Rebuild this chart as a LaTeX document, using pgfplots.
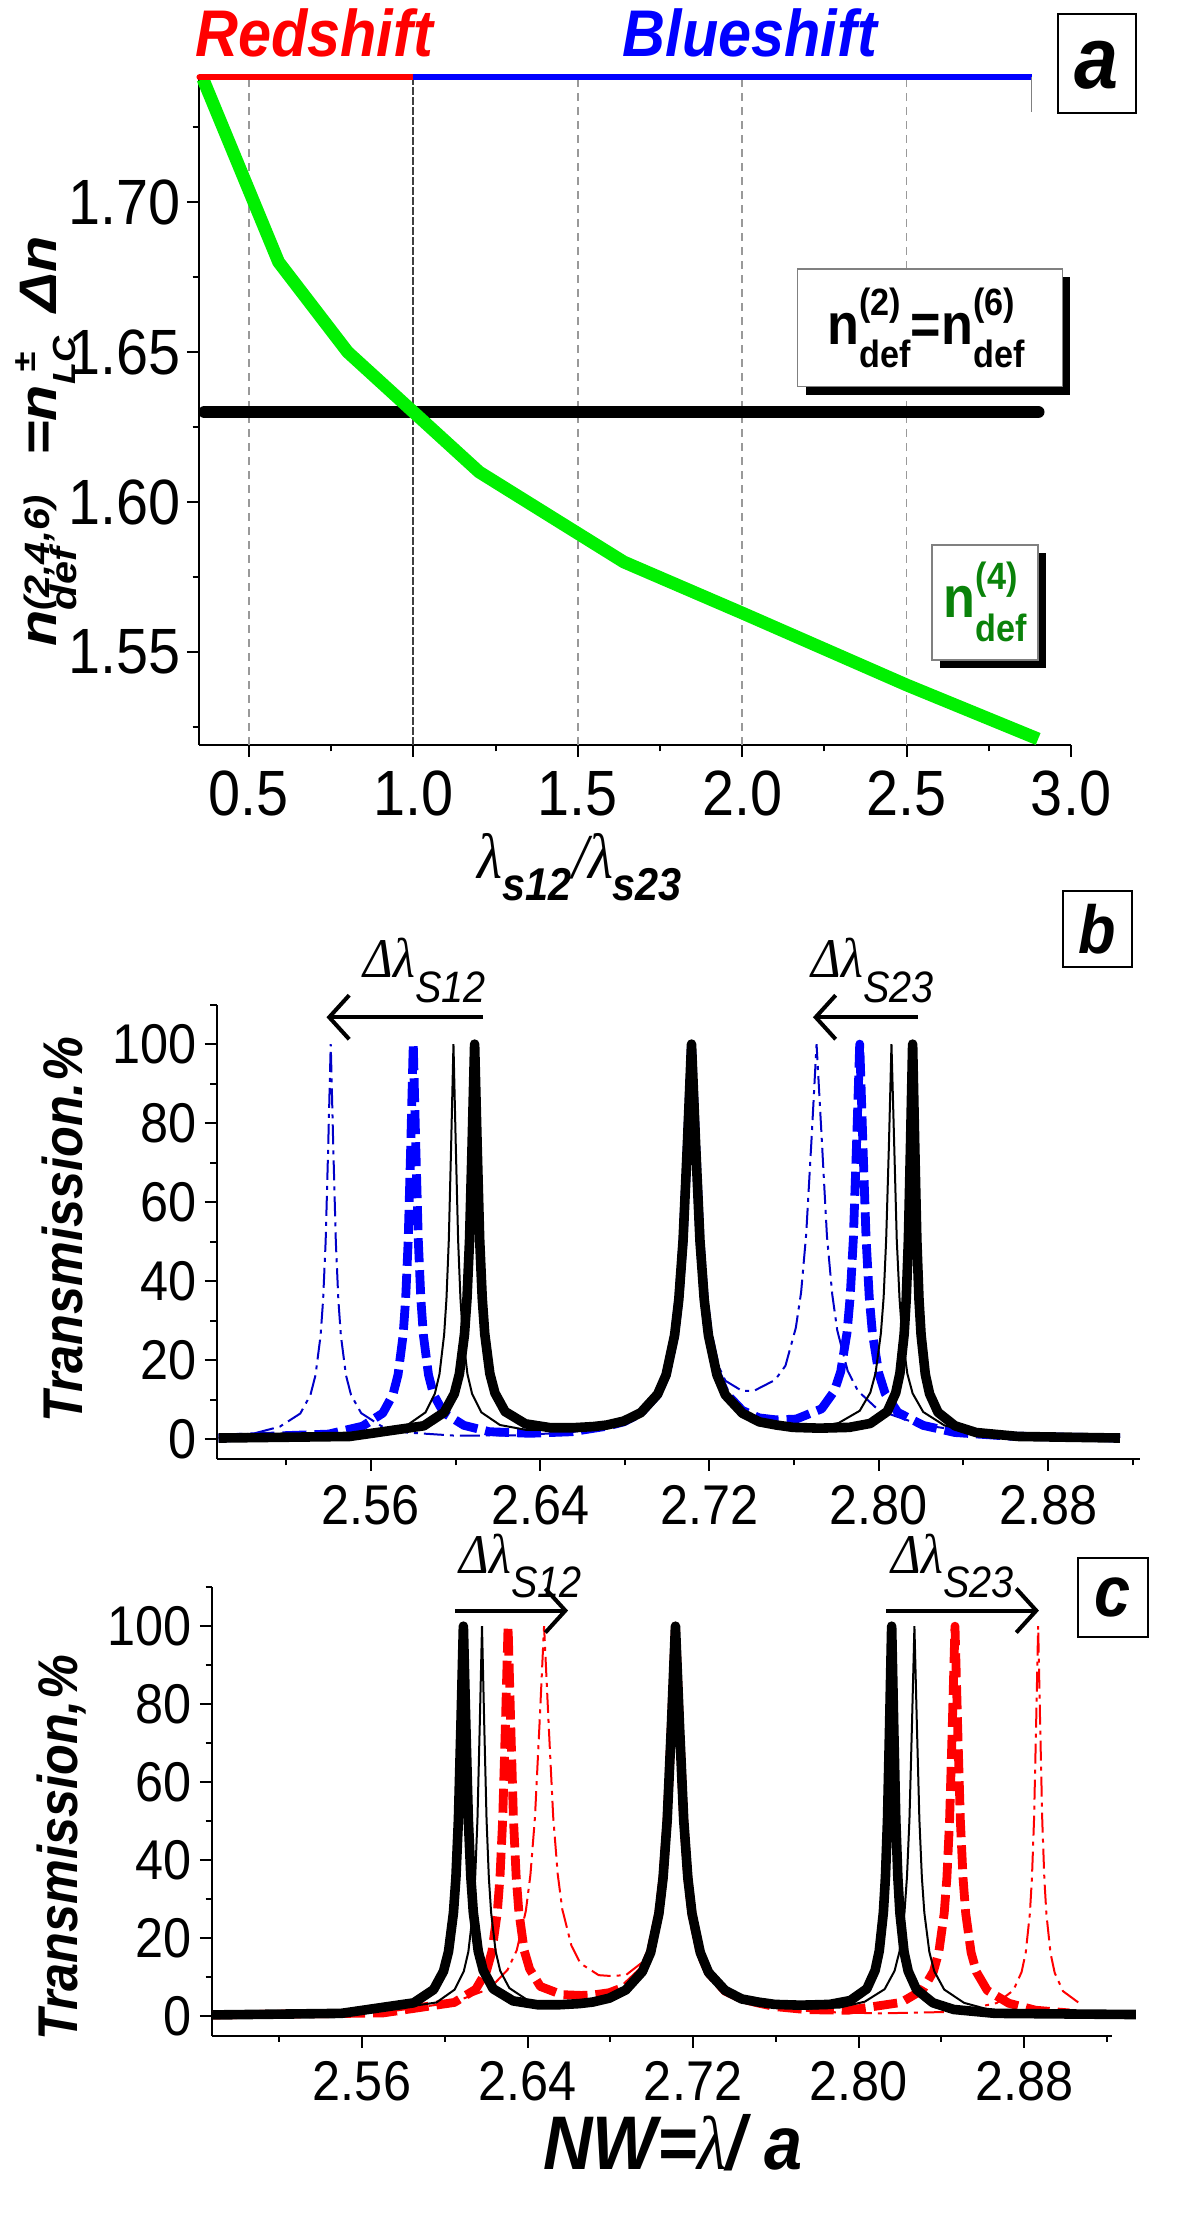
\documentclass[border=0pt]{standalone}
\usepackage{graphicx}
\usepackage{fontspec}
\setmainfont{Liberation Sans}[FakeStretch=0.9]
\newfontfamily\tms{Liberation Serif}[FakeStretch=0.9]
\usepackage{pgfplots}
\pgfplotsset{compat=1.18}
\usetikzlibrary{arrows.meta}
\definecolor{ngreen}{RGB}{0,240,0}
\definecolor{dgreen}{RGB}{10,130,10}
\definecolor{dblue}{RGB}{0,0,200}
\newcommand\fs[1]{\fontsize{#1}{#1}\selectfont}
\newcommand\bi{\bfseries\itshape}

\pgfplotsset{
  panel/.style={scale only axis, anchor=south west, clip=false,
    axis x line*=bottom, axis y line*=left, axis line style={-, line width=0.5pt},
    tick align=outside, major tick length=3pt, minor tick length=1.6pt,
    tick style={black, line width=0.5pt}},
  spec/.style={panel, ymin=-5, ymax=110,
    xtick={2.56,2.64,2.72,2.80,2.88}, xticklabels={2.56,2.64,2.72,2.80,2.88},
    minor xtick={2.52,2.60,2.68,2.76,2.84,2.92},
    ytick={0,20,40,60,80,100}, yticklabels={0,20,40,60,80,100},
    minor ytick={10,30,50,70,90,110},
    tick label style={font=\fs{14}}, yticklabel style={xshift=1.5pt}},
  thickblack/.style={black, line width=2.4pt, line join=round},
  thinblack/.style={black, line width=0.5pt},
  thickdash/.style={line width=2.2pt, dash pattern=on 6pt off 2pt, line join=round},
  thindot/.style={line width=0.5pt, dash pattern=on 5pt off 1.5pt on 1pt off 1.5pt},
  shiftarrow/.style={black, line width=1pt, -{Straight Barb[length=5pt,width=11pt,line width=1pt]}},
  vgrid/.style={gray!80, line width=0.4pt, dash pattern=on 2pt off 1.5pt}
}

\begin{document}
\begin{tikzpicture}
\path[use as bounding box] (0,0) rectangle (300pt,559.5pt);

% ---------------- panel a ----------------
\begin{axis}[panel, at={(49.75pt,373.25pt)}, width=218pt, height=166.95pt,
    xmin=0.348, xmax=3.0, ymin=1.519, ymax=1.7416,
    xtick={0.5,1,1.5,2,2.5,3}, xticklabels={0.5,1.0,1.5,2.0,2.5,3.0},
    minor xtick={0.75,1.25,1.75,2.25,2.75},
    ytick={1.55,1.6,1.65,1.7}, yticklabels={1.55,1.60,1.65,1.70},
    minor ytick={1.525,1.575,1.625,1.675,1.725},
    tick label style={font=\fs{16}}, yticklabel style={xshift=2pt}]
\addplot[vgrid] coordinates {(0.5,1.519) (0.5,1.7416)};
\addplot[vgrid] coordinates {(1.5,1.519) (1.5,1.7416)};
\addplot[vgrid] coordinates {(2.0,1.519) (2.0,1.7416)};
\addplot[vgrid] coordinates {(2.5,1.519) (2.5,1.7416)};
\addplot[black!75, line width=0.5pt, dash pattern=on 2pt off 0.5pt] coordinates {(1.0,1.519) (1.0,1.7416)};
\addplot[black, line width=3.2pt, line cap=round] coordinates {(0.365,1.63) (2.90,1.63)};
\addplot[ngreen, line width=3.2pt, line join=round] coordinates {
  (0.36,1.741) (0.59,1.680) (0.80,1.650) (1.00,1.630) (1.20,1.610)
  (1.64,1.580) (2.00,1.563) (2.50,1.539) (2.90,1.521)};
\addplot[red, line width=1.6pt, line cap=round] coordinates {(0.35,1.7416) (1.0,1.7416)};
\addplot[blue, line width=1.6pt] coordinates {(1.0,1.7416) (2.88,1.7416)};
\addplot[gray, line width=0.4pt] coordinates {(2.88,1.730) (2.88,1.7416)};
\end{axis}

\node[anchor=base, text=red, inner sep=0pt] at (78.5pt,545.25pt) {\bi\fs{16.5}Redshift};
\node[anchor=base, text=blue, inner sep=0pt] at (187.5pt,545.25pt) {\bi\fs{16.5}Blueshift};
\draw[line width=0.6pt] (264.5pt,531.25pt) rectangle (284pt,556pt);
\node at (274.25pt,543.2pt) {\bi\fs{22}a};

% boxes with shadow
\fill[black] (201.4pt,460.8pt) rectangle (267.6pt,490.25pt);
\filldraw[fill=white, draw=gray, line width=0.3pt] (199.4pt,462.8pt) rectangle (265.6pt,492.25pt);
\node[anchor=base west, inner sep=0pt] at (206.7pt,473.25pt) {\bfseries\fs{14.5}n\rlap{\raisebox{7.3pt}{\fs{9.5}(2)}}\raisebox{-5.7pt}{\fs{9.5}def}=n\rlap{\raisebox{7.3pt}{\fs{9.5}(6)}}\raisebox{-5.7pt}{\fs{9.5}def}};
\fill[black] (235pt,392.5pt) rectangle (261.5pt,421.25pt);
\filldraw[fill=white, draw=gray, line width=0.3pt] (233pt,394.5pt) rectangle (259.5pt,423.25pt);
\node[anchor=base west, inner sep=0pt, text=dgreen] at (235.75pt,405pt) {\bfseries\fs{14.5}n\rlap{\raisebox{7pt}{\fs{9.5}(4)}}\raisebox{-5.9pt}{\fs{9.5}def}};

\node[rotate=90, anchor=base, inner sep=0pt] at (14pt,449.1pt) {\scalebox{1}[0.8]{\bi\fs{16.5}n\raisebox{-6.5pt}{\rlap{\fs{11.5}def}}\raisebox{2pt}{\fs{11}(2,4,6)}\hspace{10pt}=n\rlap{\hspace{3pt}\raisebox{6.5pt}{\fs{10}±}}\raisebox{-6pt}{\fs{10}LC}\hspace{6pt}Δn}};
\node[anchor=base, inner sep=0pt] at (145pt,339.75pt) {{\tms\itshape\fs{16}λ}\raisebox{-5.5pt}{\bi\fs{11.5}s12}{\tms\itshape\fs{16}/λ}\raisebox{-5.5pt}{\bi\fs{11.5}s23}};

% ---------------- panel b ----------------
\begin{axis}[spec, at={(54.17pt,194.75pt)}, width=230.8pt, height=113.6pt,
    xmin=2.4871, xmax=2.9234]
\addplot[thindot, dblue] coordinates {
 (2.488,0.6) (2.505,1.5) (2.517,3.2) (2.5266,6.5) (2.5314,11.2) (2.5338,16.2) (2.5362,26.2)
 (2.5374,35.3) (2.5386,50.1) (2.5398,74) (2.541,100) (2.5422,74) (2.5434,50.1) (2.5446,35.3)
 (2.5458,26.2) (2.5482,16.2) (2.5506,11.2) (2.5554,6.6) (2.565,3.3) (2.577,1.7) (2.600,0.9)
 (2.630,1.0) (2.655,1.8) (2.6715,3.2) (2.6795,4.3) (2.6875,6.5) (2.6955,11.2) (2.6995,16.2)
 (2.7035,26.2) (2.7055,35.3) (2.7075,50.1) (2.7095,74) (2.7115,100) (2.7135,76.3) (2.7155,52.5)
 (2.7175,37.9) (2.7195,29.0) (2.7235,19.4) (2.7275,14.8) (2.7355,12.2) (2.7412,12.3) (2.751,15.0)
 (2.7559,18.6) (2.7608,28.2) (2.7633,37.2) (2.7657,51.9) (2.7682,75.7) (2.7706,100) (2.7731,75.5)
 (2.7755,51.5) (2.778,36.7) (2.7804,27.5) (2.7853,17.3) (2.7902,12.2) (2.800,7.3) (2.8196,3.7)
 (2.844,1.8) (2.868,1.1) (2.914,0.5)};
\addplot[thickdash, blue] coordinates {
 (2.488,0.3) (2.540,1.3) (2.556,3.3) (2.5656,6.6) (2.5704,11.3) (2.5728,16.3) (2.5752,26.3)
 (2.5764,35.4) (2.5776,50.2) (2.5788,74) (2.580,100) (2.5812,74) (2.5824,50.2) (2.5836,35.4)
 (2.5848,26.3) (2.5872,16.3) (2.5896,11.3) (2.5944,6.7) (2.604,3.5) (2.616,1.9) (2.635,1.5)
 (2.655,1.9) (2.6715,3.3) (2.6795,4.4) (2.6875,6.6) (2.6955,11.3) (2.6995,16.3) (2.7035,26.2)
 (2.7055,35.3) (2.7075,50.1) (2.7095,74) (2.7115,100) (2.7135,74.5) (2.7155,50.5) (2.7175,35.7)
 (2.7195,26.6) (2.7235,16.7) (2.7275,11.8) (2.7355,7.3) (2.7435,5.4) (2.7515,4.9) (2.761,5.1)
 (2.773,7.7) (2.779,12.2) (2.782,17.1) (2.785,27.0) (2.7865,36.1) (2.788,50.9) (2.7895,74.7)
 (2.791,100) (2.7925,74.7) (2.794,50.8) (2.7955,35.9) (2.797,26.8) (2.800,16.7) (2.803,11.6)
 (2.809,6.8) (2.821,3.5) (2.836,1.7) (2.861,0.8) (2.914,0.3)};
\addplot[thinblack] coordinates {
 (2.488,0.25) (2.550,0.85) (2.577,3.5) (2.5858,6.8) (2.5902,11.5) (2.5924,16.5) (2.5946,26.5)
 (2.5957,35.6) (2.5968,50.4) (2.5979,74.3) (2.599,100) (2.6001,74.3) (2.6012,50.4) (2.6023,35.6)
 (2.6034,26.5) (2.6056,16.5) (2.6078,11.5) (2.6122,6.8) (2.621,3.6) (2.633,2.4) (2.650,2.4)
 (2.665,2.8) (2.6715,3.5) (2.6795,4.6) (2.6875,6.7) (2.6955,11.35) (2.6995,16.3) (2.7035,26.3)
 (2.7055,35.4) (2.7075,50.2) (2.7095,74) (2.7115,100) (2.7135,74.2) (2.7155,50.3) (2.7175,35.5)
 (2.7195,26.4) (2.7235,16.4) (2.7275,11.4) (2.7355,6.8) (2.7435,4.7) (2.7515,3.75) (2.7595,3.05)
 (2.769,2.9) (2.781,4.1) (2.791,7.2) (2.796,11.8) (2.7985,16.8) (2.801,26.8) (2.8023,35.9)
 (2.8035,50.6) (2.8048,74.5) (2.806,100) (2.8073,74.4) (2.8085,50.5) (2.8098,35.7) (2.811,26.6)
 (2.8135,16.6) (2.816,11.6) (2.821,6.9) (2.831,3.5) (2.846,1.5) (2.866,0.75) (2.914,0.3)};
\addplot[thickblack] coordinates {
 (2.488,0.3) (2.550,0.7) (2.585,3.4) (2.5946,6.8) (2.5994,11.5) (2.6018,16.5) (2.6042,26.5)
 (2.6054,35.6) (2.6066,50.4) (2.6078,74.3) (2.609,100) (2.6102,74.3) (2.6114,50.4) (2.6126,35.7)
 (2.6138,26.6) (2.6162,16.6) (2.6186,11.7) (2.6234,7.0) (2.633,3.9) (2.645,2.9) (2.655,2.9)
 (2.665,3.2) (2.6715,3.6) (2.6795,4.6) (2.6875,6.7) (2.6955,11.4) (2.6995,16.3) (2.7035,26.3)
 (2.7055,35.4) (2.7075,50.2) (2.7095,74) (2.7115,100) (2.7135,74) (2.7155,50.2) (2.7175,35.4)
 (2.7195,26.3) (2.7235,16.3) (2.7275,11.2) (2.7355,6.6) (2.7435,4.4) (2.7515,3.6) (2.7595,3.0)
 (2.772,2.8) (2.786,3.0) (2.796,4.0) (2.804,7.0) (2.808,11.7) (2.810,16.7) (2.812,26.6)
 (2.813,35.7) (2.814,50.5) (2.815,74.4) (2.816,100) (2.817,74.3) (2.818,50.3) (2.819,35.5)
 (2.820,26.4) (2.822,16.4) (2.824,11.5) (2.828,6.8) (2.836,3.4) (2.846,1.7) (2.866,0.7) (2.914,0.3)};
\addplot[shiftarrow] coordinates {(2.613,106.8) (2.539,106.8)};
\addplot[shiftarrow] coordinates {(2.8185,106.8) (2.7689,106.8)};
\node[anchor=base west, inner sep=0pt] at (axis cs:2.5562,116.9) {\tms\itshape\fs{14}Δλ\raisebox{-6.25pt}{\normalfont\itshape\fs{11}S12}};
\node[anchor=base west, inner sep=0pt] at (axis cs:2.768,116.9) {\tms\itshape\fs{14}Δλ\raisebox{-6.25pt}{\normalfont\itshape\fs{11}S23}};
\end{axis}
\draw[line width=0.6pt] (265.75pt,317.75pt) rectangle (283pt,336.75pt);
\node at (274.4pt,327.25pt) {\bi\fs{17}b};
\node[rotate=90, inner sep=0pt] at (15.5pt,252pt) {\bi\fs{14}Transmission.\%};

% ---------------- panel c ----------------
\begin{axis}[spec, at={(53pt,50.6pt)}, width=225pt, height=112.1pt,
    xmin=2.4875, xmax=2.9225]
\addplot[thindot, red] coordinates {
 (2.488,0.3) (2.575,1.3) (2.604,3.5) (2.6216,7.0) (2.6304,11.9) (2.6348,16.9) (2.6392,27.0)
 (2.6414,36.2) (2.6436,51.0) (2.6458,74.9) (2.648,100) (2.6502,75.0) (2.6524,51.2) (2.6546,36.4)
 (2.6568,27.4) (2.6612,18.1) (2.6656,13.5) (2.6744,10.5) (2.680,10.3) (2.6875,10.5) (2.6955,13.8)
 (2.6995,18.4) (2.7035,28.1) (2.7055,37.1) (2.7075,51.8) (2.7095,75.6) (2.7115,100) (2.7135,74)
 (2.7155,50) (2.7175,35.2) (2.7195,26.1) (2.7235,16.1) (2.7275,11.1) (2.7355,6.4) (2.7435,4.2)
 (2.7515,3.1) (2.7595,2.15) (2.780,1.1) (2.810,0.7) (2.8468,1.1) (2.8668,3.35) (2.8748,6.6)
 (2.8788,11.3) (2.8808,16.3) (2.8828,26.3) (2.8838,35.4) (2.8848,50.2) (2.8858,74.1) (2.8868,100)
 (2.8878,74) (2.8888,50) (2.8898,35.2) (2.8908,26.1) (2.8928,16.1) (2.8948,11.1) (2.8988,6.4)
 (2.908,2.8)};
\addplot[thickdash, red] coordinates {
 (2.488,0.3) (2.570,0.8) (2.6046,3.5) (2.615,6.9) (2.6202,11.6) (2.6228,16.6) (2.6254,26.6)
 (2.6267,35.7) (2.628,50.5) (2.6293,74.4) (2.6306,100) (2.6319,74.5) (2.6332,50.6) (2.6345,35.9)
 (2.6358,26.8) (2.6384,16.8) (2.641,12.1) (2.6462,7.6) (2.6566,5.5) (2.666,5.3) (2.6715,5.4)
 (2.6795,6.0) (2.6875,7.6) (2.6955,11.6) (2.6995,16.5) (2.7035,26.5) (2.7055,35.6) (2.7075,50.3)
 (2.7095,74.2) (2.7115,100) (2.7135,74) (2.7155,50) (2.7175,35.2) (2.7195,26.1) (2.7235,16.1)
 (2.7275,11.1) (2.7355,6.4) (2.7435,4.4) (2.7515,3.35) (2.7595,2.45) (2.775,1.65) (2.795,1.5)
 (2.8206,3.5) (2.831,6.75) (2.8362,11.45) (2.8388,16.45) (2.8414,26.4) (2.8427,35.5) (2.844,50.3)
 (2.8453,74.2) (2.8466,100) (2.8479,74.2) (2.8492,50.2) (2.8505,35.4) (2.8518,26.3) (2.8544,16.3)
 (2.857,11.3) (2.8622,6.6) (2.8726,3.3) (2.8856,1.5) (2.902,0.8)};
\addplot[thinblack] coordinates {
 (2.488,0.25) (2.560,0.65) (2.596,3.5) (2.6048,6.8) (2.6092,11.5) (2.6114,16.5) (2.6136,26.5)
 (2.6147,35.6) (2.6158,50.4) (2.6169,74.3) (2.618,100) (2.6191,74.3) (2.6202,50.4) (2.6213,35.6)
 (2.6224,26.6) (2.6246,16.6) (2.6268,11.6) (2.6312,7.2) (2.640,4.1) (2.651,2.8) (2.662,2.8)
 (2.6715,3.6) (2.6795,4.6) (2.6875,6.7) (2.6955,11.35) (2.6995,16.3) (2.7035,26.3) (2.7055,35.4)
 (2.7075,50.2) (2.7095,74) (2.7115,100) (2.7135,74.2) (2.7155,50.2) (2.7175,35.4) (2.7195,26.3)
 (2.7235,16.3) (2.7275,11.3) (2.7355,6.6) (2.7435,4.4) (2.7515,3.4) (2.7595,2.55) (2.775,1.9)
 (2.791,2.2) (2.803,3.7) (2.8126,6.9) (2.8174,11.6) (2.8198,16.6) (2.8222,26.6) (2.8234,35.7)
 (2.8246,50.5) (2.8258,74.4) (2.827,100) (2.8282,74.4) (2.8294,50.4) (2.8306,35.6) (2.8318,26.5)
 (2.8342,16.5) (2.8366,11.5) (2.8414,6.8) (2.851,3.4) (2.863,1.65) (2.902,0.5)};
\addplot[thickblack] coordinates {
 (2.488,0.3) (2.550,0.7) (2.585,3.4) (2.5946,6.8) (2.5994,11.5) (2.6018,16.5) (2.6042,26.5)
 (2.6054,35.6) (2.6066,50.4) (2.6078,74.3) (2.609,100) (2.6102,74.3) (2.6114,50.4) (2.6126,35.7)
 (2.6138,26.6) (2.6162,16.6) (2.6186,11.7) (2.6234,7.0) (2.633,3.9) (2.645,2.9) (2.655,2.9)
 (2.665,3.2) (2.6715,3.6) (2.6795,4.6) (2.6875,6.7) (2.6955,11.4) (2.6995,16.3) (2.7035,26.3)
 (2.7055,35.4) (2.7075,50.2) (2.7095,74) (2.7115,100) (2.7135,74) (2.7155,50.2) (2.7175,35.4)
 (2.7195,26.3) (2.7235,16.3) (2.7275,11.2) (2.7355,6.6) (2.7435,4.4) (2.7515,3.6) (2.7595,3.0)
 (2.772,2.8) (2.786,3.0) (2.796,4.0) (2.804,7.0) (2.808,11.7) (2.810,16.7) (2.812,26.6)
 (2.813,35.7) (2.814,50.5) (2.815,74.4) (2.816,100) (2.817,74.3) (2.818,50.3) (2.819,35.5)
 (2.820,26.4) (2.822,16.4) (2.824,11.5) (2.828,6.8) (2.836,3.4) (2.846,1.7) (2.866,0.7) (2.934,0.4)};
\addplot[shiftarrow] coordinates {(2.605,104) (2.6596,104)};
\addplot[shiftarrow] coordinates {(2.8133,104) (2.8872,104)};
\node[anchor=base west, inner sep=0pt] at (axis cs:2.6069,113.6) {\tms\itshape\fs{14}Δλ\raisebox{-6pt}{\normalfont\itshape\fs{11}S12}};
\node[anchor=base west, inner sep=0pt] at (axis cs:2.8157,113.6) {\tms\itshape\fs{14}Δλ\raisebox{-6pt}{\normalfont\itshape\fs{11}S23}};
\end{axis}
\draw[line width=0.6pt] (269.5pt,150.25pt) rectangle (287pt,170pt);
\node at (278.25pt,160.1pt) {\bi\fs{18}c};
\node[rotate=90, inner sep=0pt] at (15.5pt,97.5pt) {\bi\fs{14}Transmission,\%};
\node[anchor=base, inner sep=0pt] at (168.25pt,17pt) {\bi\fs{19}NW={\normalfont\tms\itshape λ}/ a};
\end{tikzpicture}
\end{document}
